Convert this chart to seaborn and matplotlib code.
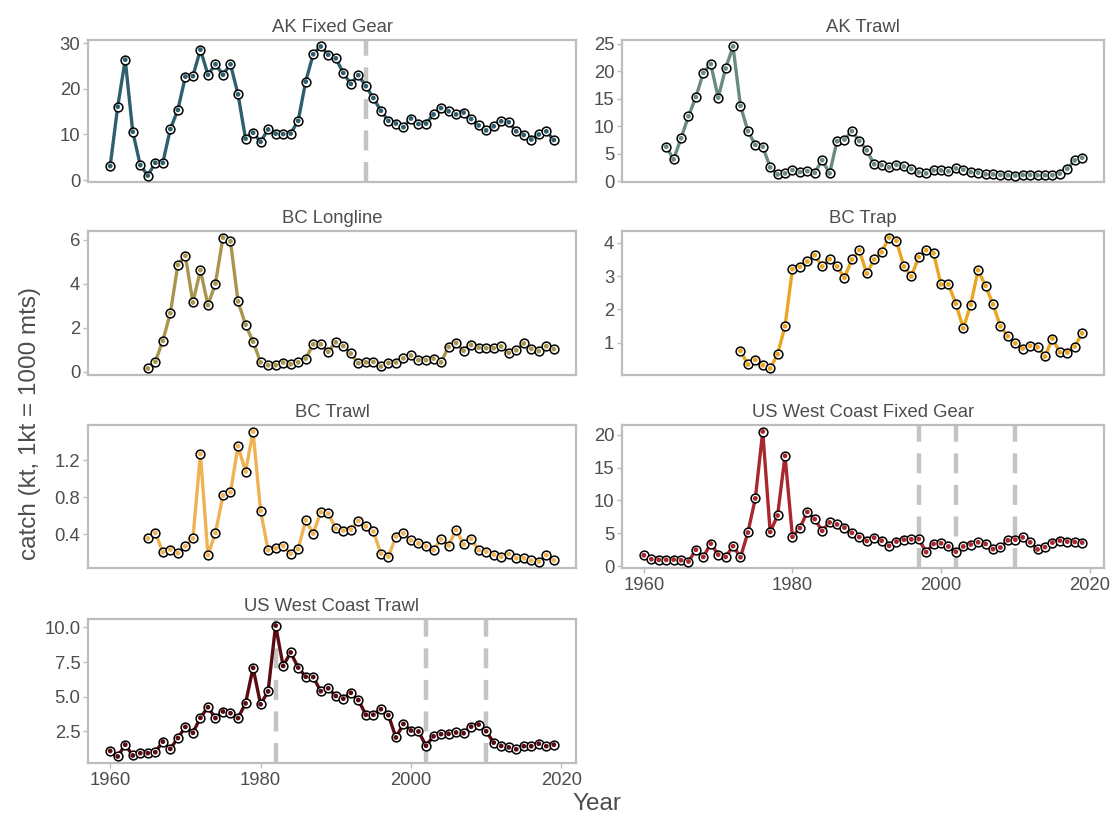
import numpy as np
import pandas as pd
import matplotlib
matplotlib.use("Agg")
import matplotlib.pyplot as plt
from matplotlib.ticker import FixedLocator, FormatStrFormatter
import seaborn as sns

sns.set_theme(style="white")
plt.rcParams["font.family"] = ["Liberation Sans", "DejaVu Sans"]

# ---- catch series (kt) by fleet ----
ak_fixed_years = list(range(1960, 2020))
ak_fixed = [3.1, 16.1, 26.4, 10.6, 3.3, 1.0, 3.8, 3.8, 11.2, 15.4,
            22.7, 22.8, 28.6, 23.1, 25.4, 23.1, 25.4, 18.8, 9.1, 10.4,
            8.4, 11.1, 10.2, 10.1, 10.2, 13.0, 21.6, 27.6, 29.3, 27.5,
            26.7, 23.5, 21.1, 23.0, 20.6, 18.0, 15.2, 13.0, 12.4, 11.6,
            13.5, 12.3, 12.4, 14.4, 15.8, 15.1, 14.4, 14.8, 13.4, 12.0,
            10.9, 11.8, 12.9, 12.7, 10.7, 9.9, 8.9, 10.0, 10.7, 8.8]

ak_trawl_years = list(range(1963, 2020))
ak_trawl = [6.25, 3.95, 7.8, 11.8, 15.3, 19.7, 21.3, 15.2, 20.5, 24.5,
            13.7, 9.1, 6.6, 6.25, 2.5, 1.2, 1.4, 2.0, 1.65, 1.8,
            1.5, 3.8, 1.4, 7.25, 7.55, 9.1, 7.3, 5.6, 3.07, 2.9,
            2.5, 2.95, 2.65, 2.2, 1.6, 1.4, 1.95, 1.95, 1.77, 2.3,
            2.06, 1.65, 1.53, 1.24, 1.24, 1.12, 1.06, 1.0, 1.12, 1.12,
            1.06, 1.06, 1.06, 1.35, 2.24, 3.77, 4.25]

bc_longline_years = list(range(1965, 2020))
bc_longline = [0.15, 0.46, 1.41, 2.66, 4.86, 5.27, 3.15, 4.62, 3.03, 4.01,
               6.1, 5.93, 3.2, 2.14, 1.37, 0.43, 0.3, 0.3, 0.42, 0.34,
               0.43, 0.6, 1.25, 1.25, 0.91, 1.34, 1.17, 0.83, 0.39, 0.43,
               0.45, 0.24, 0.4, 0.42, 0.61, 0.74, 0.53, 0.53, 0.6, 0.43,
               1.13, 1.31, 0.95, 1.22, 1.1, 1.07, 1.07, 1.15, 0.86, 0.98,
               1.29, 1.04, 0.94, 1.16, 1.03]

bc_trap_years = list(range(1973, 2020))
bc_trap = [0.75, 0.34, 0.48, 0.32, 0.22, 0.65, 1.49, 3.21, 3.28, 3.44,
           3.63, 3.29, 3.51, 3.29, 2.95, 3.5, 3.78, 3.08, 3.5, 3.72,
           4.16, 4.06, 3.29, 2.99, 3.57, 3.78, 3.69, 2.75, 2.75, 2.17,
           1.43, 2.14, 3.18, 2.71, 2.15, 1.49, 1.19, 0.98, 0.82, 0.9,
           0.86, 0.58, 1.12, 0.71, 0.7, 0.88, 1.28]

bc_trawl_years = list(range(1965, 2020))
bc_trawl = [0.354, 0.414, 0.206, 0.234, 0.196, 0.27, 0.354, 1.27, 0.174, 0.414,
            0.82, 0.855, 1.355, 1.08, 1.514, 0.654, 0.227, 0.248, 0.273, 0.19,
            0.238, 0.552, 0.407, 0.64, 0.625, 0.463, 0.44, 0.45, 0.545, 0.485,
            0.43, 0.19, 0.157, 0.375, 0.41, 0.333, 0.3, 0.27, 0.227, 0.344,
            0.277, 0.446, 0.29, 0.35, 0.227, 0.21, 0.178, 0.157, 0.185, 0.14,
            0.14, 0.115, 0.104, 0.174, 0.118]

uswc_fixed_years = list(range(1960, 2020))
uswc_fixed = [1.64, 1.04, 0.94, 0.94, 0.99, 0.89, 0.69, 2.48, 1.39, 3.42,
              1.74, 1.39, 3.03, 1.34, 5.11, 10.3, 20.5, 5.2, 7.7, 16.8,
              4.47, 5.8, 8.24, 7.15, 5.36, 6.65, 6.35, 5.86, 5.06, 4.42,
              3.82, 4.32, 3.87, 3.08, 3.72, 4.02, 4.07, 4.12, 2.13, 3.37,
              3.47, 2.98, 2.18, 2.98, 3.28, 3.62, 3.37, 2.58, 2.83, 3.92,
              4.02, 4.37, 3.62, 2.53, 2.88, 3.57, 3.87, 3.72, 3.67, 3.57]

uswc_trawl_years = list(range(1960, 2020))
uswc_trawl = [1.1, 0.7, 1.55, 0.77, 0.94, 0.94, 1.01, 1.77, 1.25, 2.03,
              2.83, 2.41, 3.49, 4.25, 3.47, 3.94, 3.82, 3.47, 4.53, 7.09,
              4.46, 5.39, 10.14, 7.23, 8.2, 7.11, 6.45, 6.43, 5.41, 5.62,
              5.06, 4.87, 5.29, 4.77, 3.71, 3.71, 4.11, 3.68, 2.07, 3.04,
              2.57, 2.5, 1.48, 2.15, 2.31, 2.33, 2.43, 2.38, 2.85, 3.0,
              2.52, 1.7, 1.46, 1.36, 1.22, 1.44, 1.44, 1.62, 1.44, 1.55]

fleets = ["AK Fixed Gear", "AK Trawl", "BC Longline", "BC Trap",
          "BC Trawl", "US West Coast Fixed Gear", "US West Coast Trawl"]
fleet_years = [ak_fixed_years, ak_trawl_years, bc_longline_years, bc_trap_years,
               bc_trawl_years, uswc_fixed_years, uswc_trawl_years]
fleet_catch = [ak_fixed, ak_trawl, bc_longline, bc_trap,
               bc_trawl, uswc_fixed, uswc_trawl]
fleet_colors = ["#2f5f6c", "#6b8c7d", "#a8964f", "#e9a623",
                "#efb353", "#a8282e", "#5a0c12"]

# management change years marked per fleet
change_years = {
    "AK Fixed Gear": [1994],
    "US West Coast Fixed Gear": [1997, 2002, 2010],
    "US West Coast Trawl": [1982, 2002, 2010],
}

# y-axis ticks per fleet
y_ticks = {
    "AK Fixed Gear": [0, 10, 20, 30],
    "AK Trawl": [0, 5, 10, 15, 20, 25],
    "BC Longline": [0, 2, 4, 6],
    "BC Trap": [1, 2, 3, 4],
    "BC Trawl": [0.4, 0.8, 1.2],
    "US West Coast Fixed Gear": [0, 5, 10, 15, 20],
    "US West Coast Trawl": [2.5, 5.0, 7.5, 10.0],
}
y_fmt = {"BC Trawl": "%.1f", "US West Coast Trawl": "%.1f"}
x_ticks = [1960, 1980, 2000, 2020]

frames = []
for name, yrs, vals in zip(fleets, fleet_years, fleet_catch):
    frames.append(pd.DataFrame({"fleet": name, "year": yrs, "catch": vals}))
df = pd.concat(frames, ignore_index=True)

W, H = 1119, 818
fig = plt.figure(figsize=(W / 100, H / 100), dpi=100)

col_x = [(88, 576), (622, 1104)]
row_y = [(40, 182), (231, 375), (425, 568), (619, 763)]


def px_axes(x0, x1, y0, y1):
    return fig.add_axes([x0 / W, 1 - y1 / H, (x1 - x0) / W, (y1 - y0) / H])


grey_txt = "#4d4d4d"
spine_col = "#bdbdbd"
xlim = (1957.05, 2021.95)

for i, (name, color) in enumerate(zip(fleets, fleet_colors)):
    r, c = divmod(i, 2)
    ax = px_axes(col_x[c][0], col_x[c][1], row_y[r][0], row_y[r][1])
    sub = df[df["fleet"] == name]

    for yr in change_years.get(name, []):
        ax.axvline(yr, color="#c4c4c4", lw=3.2, ls=(0, (4.5, 2.6)), zorder=1)

    sns.lineplot(data=sub, x="year", y="catch", ax=ax, color=color,
                 lw=2.4, zorder=2, legend=False)
    sns.scatterplot(data=sub, x="year", y="catch", ax=ax, s=40,
                    facecolor="white", edgecolor="black", linewidth=1.1,
                    zorder=3, legend=False)
    sns.scatterplot(data=sub, x="year", y="catch", ax=ax, s=12,
                    color=color, edgecolor="none", zorder=4, legend=False)

    ax.set_xlim(*xlim)
    lo, hi = sub["catch"].min(), sub["catch"].max()
    pad = (hi - lo) * 0.05
    ax.set_ylim(lo - pad, hi + pad)
    ax.yaxis.set_major_locator(FixedLocator(y_ticks[name]))
    ax.yaxis.set_major_formatter(FormatStrFormatter(y_fmt.get(name, "%d")))
    ax.xaxis.set_major_locator(FixedLocator(x_ticks))

    ax.set_title(name, fontsize=13.3, color=grey_txt, pad=6)
    ax.set_xlabel("")
    ax.set_ylabel("")
    ax.set_facecolor("white")
    for sp in ax.spines.values():
        sp.set_visible(True)
        sp.set_color(spine_col)
        sp.set_linewidth(1.6)

    bottom_panel = name in ("US West Coast Fixed Gear", "US West Coast Trawl")
    ax.tick_params(axis="y", which="major", left=True, length=3.5, width=1,
                   color=spine_col, labelsize=13.3, labelcolor=grey_txt, pad=2)
    ax.tick_params(axis="x", which="major", bottom=bottom_panel, length=3.5,
                   width=1, color=spine_col, labelsize=13.3,
                   labelcolor=grey_txt, labelbottom=bottom_panel, pad=3)
    ax.grid(False)

fig.text(597 / W, 1 - 804 / H, "Year", ha="center", va="center",
         fontsize=17.5, color=grey_txt)
fig.text(30 / W, 1 - 424 / H, "catch (kt, 1kt = 1000 mts)", ha="center",
         va="center", rotation=90, fontsize=17.5, color=grey_txt)

fig.savefig("out.png", dpi=100, facecolor="white")
